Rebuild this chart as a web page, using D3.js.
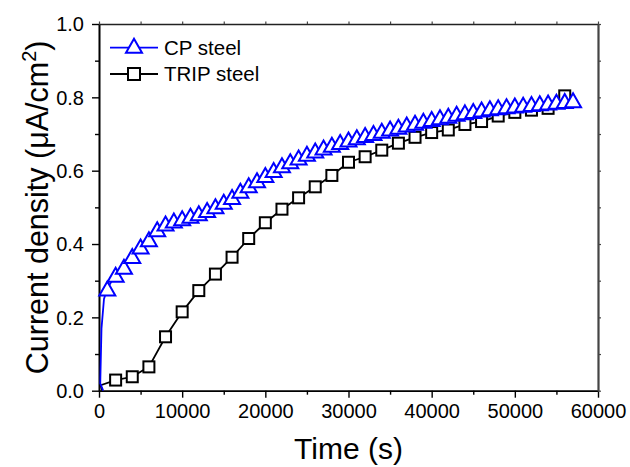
<!DOCTYPE html>
<html>
<head>
<meta charset="utf-8">
<script src="https://cdn.jsdelivr.net/npm/d3@7/dist/d3.min.js"></script>
<style>
  html, body { margin: 0; padding: 0; background: #fff; }
  svg { display: block; font-family: "Liberation Sans", Arial, sans-serif; }
</style>
</head>
<body>
<svg id="chart" width="630" height="467"></svg>
<script>
// ---- data ----
const seriesNames = ["CP steel", "TRIP steel"];

// CP steel: initial ramp (line only) then marked points
const cpStartTime  = [500, 150, 300, 600];
const cpStartValue = [0.0, 0.02, 0.17, 0.25];
const cpTime = [1000, 2000, 3000, 4000, 5000, 6000, 7000, 8000, 9000, 10000,
  11000, 12000, 13000, 14000, 15000, 16000, 17000, 18000, 19000, 20000,
  21000, 22000, 23000, 24000, 25000, 26000, 27000, 28000, 29000, 30000,
  31000, 32000, 33000, 34000, 35000, 36000, 37000, 38000, 39000, 40000,
  41000, 42000, 43000, 44000, 45000, 46000, 47000, 48000, 49000, 50000,
  51000, 52000, 53000, 54000, 55000, 56000, 57000];
const cpValue = [0.279, 0.316, 0.338, 0.367, 0.393, 0.413, 0.440, 0.456, 0.464, 0.470,
  0.477, 0.484, 0.493, 0.503, 0.515, 0.528, 0.545, 0.560, 0.574, 0.588,
  0.602, 0.615, 0.626, 0.636, 0.646, 0.655, 0.663, 0.671, 0.678, 0.685,
  0.691, 0.697, 0.703, 0.709, 0.715, 0.720, 0.726, 0.731, 0.736, 0.741,
  0.746, 0.750, 0.755, 0.759, 0.763, 0.767, 0.770, 0.773, 0.776, 0.778,
  0.780, 0.782, 0.784, 0.786, 0.788, 0.790, 0.792];

// TRIP steel: initial segment (line only) then marked points
const tripStartTime  = [400, 200];
const tripStartValue = [0.0, 0.015];
const tripTime = [2000, 4000, 6000, 8000, 10000, 12000, 14000, 16000, 18000, 20000,
  22000, 24000, 26000, 28000, 30000, 32000, 34000, 36000, 38000, 40000,
  42000, 44000, 46000, 48000, 50000, 52000, 54000, 56000];
const tripValue = [0.029, 0.038, 0.065, 0.147, 0.215, 0.273, 0.318, 0.364, 0.415, 0.458,
  0.495, 0.526, 0.556, 0.587, 0.623, 0.638, 0.656, 0.675, 0.691, 0.704,
  0.711, 0.726, 0.734, 0.749, 0.759, 0.765, 0.770, 0.804];

const xTicks = [0, 10000, 20000, 30000, 40000, 50000, 60000];
const xMinorTicks = [5000, 15000, 25000, 35000, 45000, 55000];
const yTicks = [0.0, 0.2, 0.4, 0.6, 0.8, 1.0];
const yMinorTicks = [0.1, 0.3, 0.5, 0.7, 0.9];
const xTitle = "Time (s)";
const yTitleMain = "Current density (\u03BCA/cm";
const yTitleSup = "2";
const yTitleEnd = ")";

// ---- layout ----
const L = 99, R = 598, T = 24, B = 390.7;
const svg = d3.select("#chart");
const x = d3.scaleLinear().domain([0, 60000]).range([L, R]);
const y = d3.scaleLinear().domain([0, 1.0]).range([B, T]);

const blue = "#0000ff";

// clip
svg.append("defs").append("clipPath").attr("id", "clip")
  .append("rect").attr("x", L - 2).attr("y", T).attr("width", R - L + 4).attr("height", B - T + 2);

// axes
const fmtY = d3.format(".1f");
const gBottom = svg.append("g").attr("transform", `translate(0,${B})`)
  .call(d3.axisBottom(x).tickValues(xTicks).tickFormat(d3.format("d")).tickSize(7).tickSizeOuter(0));
svg.append("g").attr("transform", `translate(0,${B})`)
  .call(d3.axisBottom(x).tickValues(xMinorTicks).tickFormat("").tickSize(4).tickSizeOuter(0));
const gLeft = svg.append("g").attr("transform", `translate(${L},0)`)
  .call(d3.axisLeft(y).tickValues(yTicks).tickFormat(fmtY).tickSize(7).tickSizeOuter(0));
svg.append("g").attr("transform", `translate(${L},0)`)
  .call(d3.axisLeft(y).tickValues(yMinorTicks).tickFormat("").tickSize(4).tickSizeOuter(0));
const gTop = svg.append("g").attr("transform", `translate(0,${T})`)
  .call(d3.axisTop(x).tickValues(xTicks.concat(xMinorTicks)).tickFormat("").tickSize(2.5).tickSizeOuter(0));
const gRight = svg.append("g").attr("transform", `translate(${R},0)`)
  .call(d3.axisRight(y).tickValues(yTicks.concat(yMinorTicks)).tickFormat("").tickSize(3).tickSizeOuter(0));

svg.selectAll(".domain").attr("stroke", "#000").attr("stroke-width", 1.6);
svg.selectAll(".tick line").attr("stroke", "#000").attr("stroke-width", 1.4);
gTop.select(".domain").attr("stroke", "#222");
gRight.select(".domain").attr("stroke", "#444").attr("stroke-width", 2.2);
gTop.selectAll(".tick line").attr("stroke", "#444").attr("stroke-width", 1.2);
gRight.selectAll(".tick line").attr("stroke", "#444").attr("stroke-width", 1.2);

gBottom.selectAll(".tick text").attr("font-size", 20).attr("font-family", "Liberation Sans, Arial, sans-serif")
  .attr("fill", "#000").attr("dy", "0.71em").attr("y", 13);
gLeft.selectAll(".tick text").attr("font-size", 20).attr("font-family", "Liberation Sans, Arial, sans-serif")
  .attr("fill", "#000").attr("x", -15).attr("dy", "0.34em");

// axis titles
svg.append("text").attr("x", (L + R) / 2).attr("y", 459)
  .attr("text-anchor", "middle").attr("font-size", 30).attr("fill", "#000").text(xTitle);

const yt = svg.append("text")
  .attr("transform", `translate(48,${(T + B) / 2}) rotate(-90)`)
  .attr("text-anchor", "middle").attr("font-size", 30.5).attr("fill", "#000");
yt.append("tspan").text(yTitleMain);
yt.append("tspan").attr("font-size", 20).attr("dy", -12.5).text(yTitleSup);
yt.append("tspan").attr("dy", 12.5).text(yTitleEnd);

// marker shapes
const triW = 16, triH = 14;
function triPath(cx, cy) {
  return `M${cx},${cy - triH / 2}L${cx + triW / 2},${cy + triH / 2}L${cx - triW / 2},${cy + triH / 2}Z`;
}
const sq = 11;

const plot = svg.append("g").attr("clip-path", "url(#clip)");
const line = d3.line().x(d => x(d[0])).y(d => y(d[1]));

// TRIP steel
const tripAll = tripStartTime.map((t, i) => [t, tripStartValue[i]])
  .concat(tripTime.map((t, i) => [t, tripValue[i]]));
plot.append("path").attr("d", line(tripAll)).attr("fill", "none")
  .attr("stroke", "#000").attr("stroke-width", 1.8);
plot.selectAll("rect.trip").data(tripTime.map((t, i) => [t, tripValue[i]])).enter()
  .append("rect").attr("class", "trip")
  .attr("x", d => x(d[0]) - sq / 2).attr("y", d => y(d[1]) - sq / 2)
  .attr("width", sq).attr("height", sq)
  .attr("fill", "#fff").attr("stroke", "#000").attr("stroke-width", 2);

// CP steel
const cpAll = cpStartTime.map((t, i) => [t, cpStartValue[i]])
  .concat(cpTime.map((t, i) => [t, cpValue[i]]));
plot.append("path").attr("d", line(cpAll)).attr("fill", "none")
  .attr("stroke", blue).attr("stroke-width", 1.8);
plot.selectAll("path.cp").data(cpTime.map((t, i) => [t, cpValue[i]])).enter()
  .append("path").attr("class", "cp")
  .attr("d", d => triPath(x(d[0]), y(d[1])))
  .attr("fill", "#fff").attr("stroke", blue).attr("stroke-width", 2).attr("stroke-linejoin", "miter");

// legend
const leg = svg.append("g");
const legRows = [
  { name: seriesNames[0], color: blue, shape: "tri", y: 47.7 },
  { name: seriesNames[1], color: "#000", shape: "sq", y: 74 }
];
legRows.forEach(r => {
  leg.append("line").attr("x1", 110).attr("x2", 158).attr("y1", r.y).attr("y2", r.y)
    .attr("stroke", r.color).attr("stroke-width", 1.8);
  if (r.shape === "tri") {
    leg.append("path").attr("d", triPath(134, r.y - 2))
      .attr("fill", "#fff").attr("stroke", r.color).attr("stroke-width", 2);
  } else {
    leg.append("rect").attr("x", 134 - 6).attr("y", r.y - 6).attr("width", 12).attr("height", 12)
      .attr("fill", "#fff").attr("stroke", r.color).attr("stroke-width", 2);
  }
  leg.append("text").attr("x", 164).attr("y", r.y + 7).attr("font-size", 20.5)
    .attr("fill", "#000").text(r.name);
});
</script>
</body>
</html>
